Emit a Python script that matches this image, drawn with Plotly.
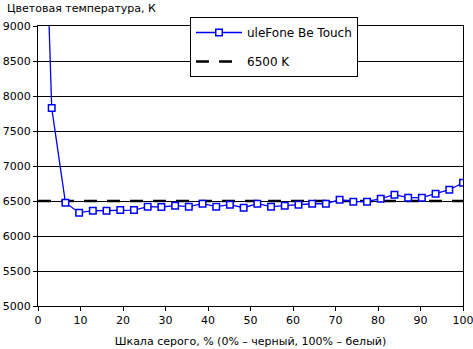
import plotly.graph_objects as go

# Grey level steps (32 levels from 0 to 100 %)
grey_pct = [i * 100 / 31 for i in range(32)]
color_temp = [14000, 7830, 6476, 6333, 6361, 6361, 6371, 6371, 6419, 6414,
              6433, 6419, 6461, 6419, 6447, 6404, 6461, 6419, 6433, 6447,
              6461, 6461, 6519, 6490, 6490, 6533, 6590, 6547, 6547, 6604,
              6661, 6761]
ref_x = [0, 100]
ref_temp = [6500, 6500]

series_name = "uleFone Be Touch"
ref_name = "6500 K"
x_title = "Шкала серого, % (0% – черный, 100% – белый)"
y_title = "Цветовая температура, К"
x_ticks = list(range(0, 101, 10))
y_ticks = list(range(5000, 9001, 500))

font_family = "DejaVu Sans, Verdana, sans-serif"

fig = go.Figure()
fig.add_trace(go.Scatter(
    x=ref_x, y=ref_temp, mode="lines", name=ref_name,
    line=dict(color="black", width=2.5, dash="13px,10px"),
    legendgroup="b", legendrank=2,
))
fig.add_trace(go.Scatter(
    x=grey_pct, y=color_temp, mode="lines+markers", name=series_name,
    line=dict(color="#0000ff", width=1.3),
    marker=dict(symbol="square", size=6.5, color="white",
                line=dict(color="#0000ff", width=1.5)),
    legendgroup="a", legendrank=1,
))

fig.update_layout(
    width=473, height=349,
    margin=dict(l=38, r=10, t=26, b=43),
    paper_bgcolor="white", plot_bgcolor="white",
    font=dict(family=font_family, size=11, color="black"),
    showlegend=True,
    legend=dict(
        x=(190 - 38) / 425, y=(306 - 17) / 280,
        xanchor="left", yanchor="top",
        bgcolor="white", bordercolor="black", borderwidth=1,
        tracegroupgap=10, itemwidth=46,
        font=dict(size=12),
    ),
    xaxis=dict(
        range=[0, 100], tickvals=x_ticks, showgrid=False, automargin=False,
        ticklabeloverflow="allow",
        showline=True, linecolor="black", linewidth=1, mirror=True,
        ticks="outside", ticklen=4, tickcolor="black", zeroline=False,
        title=dict(text=x_title, standoff=11, font=dict(size=11)),
    ),
    yaxis=dict(
        range=[5000, 9000], tickvals=y_ticks, automargin=False,
        ticklabeloverflow="allow",
        showgrid=True, gridcolor="black", gridwidth=1,
        showline=True, linecolor="black", linewidth=1, mirror=True,
        ticks="outside", ticklen=4, tickcolor="black", zeroline=False,
    ),
    annotations=[dict(
        text=y_title, xref="paper", yref="paper",
        x=-33 / 425, y=1 + 18 / 280, xanchor="left", yanchor="middle",
        showarrow=False, font=dict(size=11),
    )],
)

fig.write_html("out.html")
